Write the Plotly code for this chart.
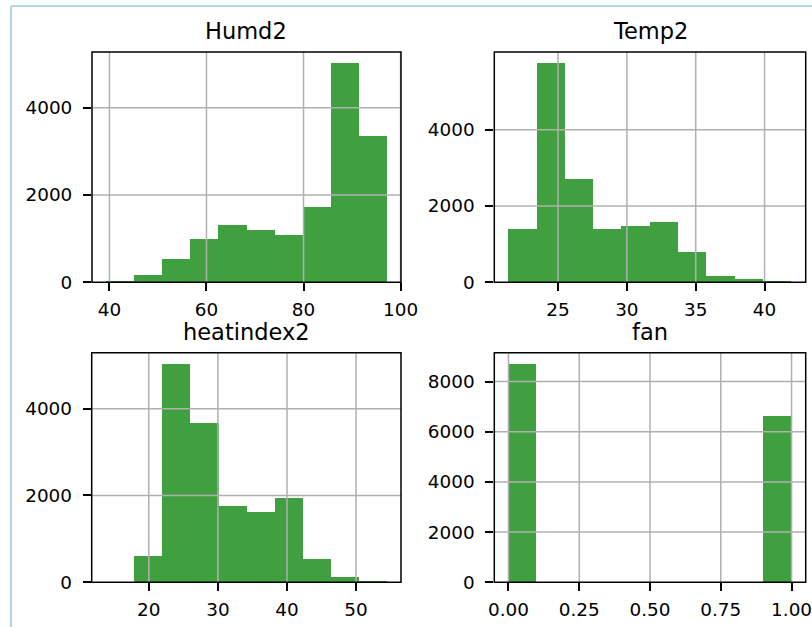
import plotly.graph_objects as go

W, H = 812, 627

# ---- data ----
humd_edges = [39.3, 45.09, 50.88, 56.67, 62.46, 68.25, 74.04, 79.83, 85.62, 91.41, 97.2]
humd_counts = [38, 175, 540, 996, 1323, 1194, 1095, 1719, 5027, 3354]

temp_edges = [21.4, 23.46, 25.51, 27.57, 29.62, 31.68, 33.74, 35.79, 37.85, 39.9, 41.96]
temp_counts = [1400, 5748, 2704, 1400, 1478, 1591, 800, 165, 87, 43]

heat_edges = [13.77, 17.84, 21.91, 25.98, 30.05, 34.12, 38.19, 42.26, 46.33, 50.40, 54.47]
heat_counts = [3, 603, 5038, 3687, 1756, 1626, 1947, 534, 137, 38]

fan_edges = [0.0, 0.1, 0.2, 0.3, 0.4, 0.5, 0.6, 0.7, 0.8, 0.9, 1.0]
fan_counts = [8713, 0, 0, 0, 0, 0, 0, 0, 0, 6653]

titles = ["Humd2", "Temp2", "heatindex2", "fan"]
humd_xticks = [40, 60, 80, 100]
temp_xticks = [25, 30, 35, 40]
heat_xticks = [20, 30, 40, 50]
fan_xticks = [0.0, 0.25, 0.5, 0.75, 1.0]
fan_xtick_labels = ["0.00", "0.25", "0.50", "0.75", "1.00"]
y_ticks_a = [0, 2000, 4000]
y_ticks_fan = [0, 2000, 4000, 6000, 8000]

BAR = "#40a040"
GRID = "#b0b0b0"
FONT = "DejaVu Sans"

# pixel boxes of the four axes (left, right, top, bottom)
boxes = [
    (92, 401, 52, 282.3),
    (494.3, 805.7, 52, 282.3),
    (91.7, 401, 352.7, 582.3),
    (494.3, 805.7, 352.7, 582.3),
]

panels = [
    (humd_edges, humd_counts, humd_xticks, None, y_ticks_a),
    (temp_edges, temp_counts, temp_xticks, None, y_ticks_a),
    (heat_edges, heat_counts, heat_xticks, None, y_ticks_a),
    (fan_edges, fan_counts, fan_xticks, fan_xtick_labels, y_ticks_fan),
]

fig = go.Figure()
layout = dict(
    width=W, height=H,
    margin=dict(l=0, r=0, t=0, b=0, pad=0),
    paper_bgcolor="white", plot_bgcolor="white",
    showlegend=False,
    bargap=0,
    font=dict(family=FONT, size=18, color="black"),
)
shapes = []
annotations = []

for i, ((edges, counts, xt, xtl, yt), (l, r, t, b), title) in enumerate(zip(panels, boxes, titles)):
    n = i + 1
    xa = "x" if n == 1 else f"x{n}"
    ya = "y" if n == 1 else f"y{n}"
    centers = [(edges[k] + edges[k + 1]) / 2 for k in range(len(counts))]
    widths = [edges[k + 1] - edges[k] for k in range(len(counts))]
    fig.add_trace(go.Bar(x=centers, y=counts, width=widths, marker=dict(color=BAR, line=dict(width=0)),
                         xaxis=xa, yaxis=ya, hoverinfo="x+y"))
    span = edges[-1] - edges[0]
    xr = [edges[0] - 0.05 * span, edges[-1] + 0.05 * span]
    yr = [0, max(counts) * 1.05]
    xdom = [l / W, r / W]
    ydom = [1 - b / H, 1 - t / H]
    xkey = "xaxis" if n == 1 else f"xaxis{n}"
    ykey = "yaxis" if n == 1 else f"yaxis{n}"
    xaxis = dict(domain=xdom, range=xr, anchor=ya, showgrid=False, zeroline=False, showline=False,
                 automargin=False, ticklabelstandoff=3, ticklabeloverflow="allow",
                 ticks="outside", ticklen=8, tickwidth=1.5, tickcolor="black",
                 tickmode="array", tickvals=xt, tickfont=dict(family=FONT, size=18.4, color="black"))
    if xtl:
        xaxis["ticktext"] = xtl
    yaxis = dict(domain=ydom, range=yr, anchor=xa, showgrid=False, zeroline=False, showline=False,
                 automargin=False, ticklabelstandoff=7, ticklabeloverflow="allow",
                 ticks="outside", ticklen=8, tickwidth=1.5, tickcolor="black",
                 tickmode="array", tickvals=yt, tickfont=dict(family=FONT, size=18.4, color="black"))
    layout[xkey] = xaxis
    layout[ykey] = yaxis
    # grid lines on top of bars
    for v in xt:
        shapes.append(dict(type="line", xref=xa, yref=f"{ya} domain", x0=v, x1=v, y0=0, y1=1,
                           line=dict(color=GRID, width=1.5), layer="above"))
    for v in yt:
        if v == 0:
            continue
        shapes.append(dict(type="line", xref=f"{xa} domain", yref=ya, x0=0, x1=1, y0=v, y1=v,
                           line=dict(color=GRID, width=1.5), layer="above"))
    # frame
    shapes.append(dict(type="rect", xref=f"{xa} domain", yref=f"{ya} domain", x0=0, x1=1, y0=0, y1=1,
                       line=dict(color="black", width=1.5), layer="above"))
    annotations.append(dict(text=title, xref="paper", yref="paper", x=(xdom[0] + xdom[1]) / 2,
                            y=ydom[1], xanchor="center", yanchor="bottom", yshift=6, showarrow=False,
                            font=dict(family=FONT, size=22.5, color="black")))

# notebook output frame (light blue)
shapes.append(dict(type="line", xref="paper", yref="paper", x0=11 / W, x1=1, y0=1 - 6 / H, y1=1 - 6 / H,
                   line=dict(color="#add8e6", width=2)))
shapes.append(dict(type="line", xref="paper", yref="paper", x0=11 / W, x1=11 / W, y0=0, y1=1 - 6 / H,
                   line=dict(color="#add8e6", width=2)))

layout["shapes"] = shapes
layout["annotations"] = annotations
fig.update_layout(**layout)
fig.write_html("out.html", config={"displayModeBar": False},
               post_script="document.body.style.margin='0';document.body.style.overflow='hidden';")
